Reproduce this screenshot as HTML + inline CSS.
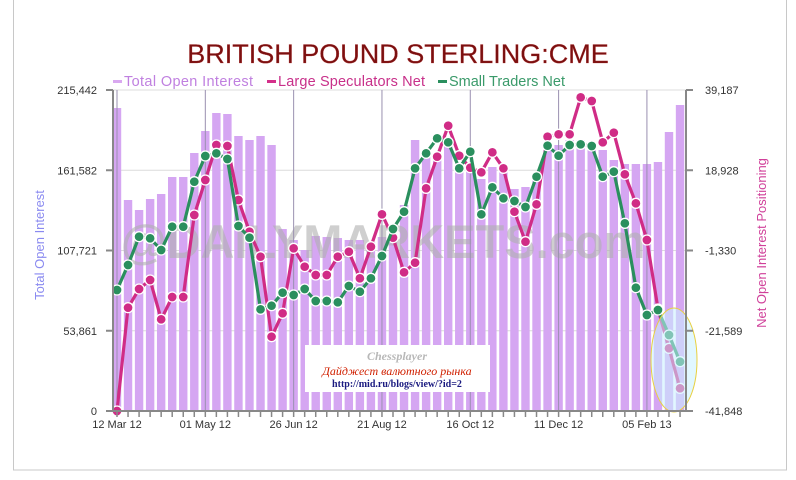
<!DOCTYPE html>
<html><head><meta charset="utf-8"><style>
html,body{margin:0;padding:0;background:#fff;width:796px;height:480px;overflow:hidden}
svg{display:block;font-family:"Liberation Sans","DejaVu Sans",sans-serif}
</style></head><body>
<svg id="c" width="796" height="480" xmlns="http://www.w3.org/2000/svg">
<rect x="13.5" y="-2" width="773" height="472" fill="#fff" stroke="#c8c8c8"/>
<text x="398" y="63" text-anchor="middle" font-size="27" fill="#7a1010" stroke="#b03030" stroke-width="0.3">BRITISH POUND STERLING:CME</text>
<g font-size="14.5">
<rect x="113" y="80" width="9" height="3" fill="#d9a8f0"/><text x="124" y="86" fill="#c080e0" textLength="129">Total Open Interest</text>
<rect x="267" y="80" width="9" height="3" fill="#d4308a"/><text x="278" y="86" fill="#c8308a" textLength="147">Large Speculators Net</text>
<rect x="438" y="80" width="9" height="3" fill="#2a8f5e"/><text x="449" y="86" fill="#3a9a6a" textLength="116">Small Traders Net</text>
</g>
<g id="grid"></g>
<g id="bars"></g>
<text x="383" y="258" text-anchor="middle" font-size="47" font-weight="bold" fill="#b0b0b0" opacity="0.6">@DAILYMARKETS.com</text>
<g id="vgrid"></g>
<rect x="305" y="345" width="185" height="47" fill="#fff"/>
<text x="397" y="360" text-anchor="middle" font-size="12" font-style="italic" font-weight="bold" fill="#b8b8b8" font-family="Liberation Serif,serif">Chessplayer</text>
<text x="397" y="375" text-anchor="middle" font-size="12" font-style="italic" fill="#d02000" font-family="Liberation Serif,serif">Дайджест валютного рынка</text>
<text x="397" y="387" text-anchor="middle" font-size="10" font-weight="bold" fill="#1a1a80" font-family="Liberation Serif,serif">http://mid.ru/blogs/view/?id=2</text>
<g id="lines"></g>
<ellipse cx="674" cy="360" rx="23" ry="52" fill="#c8f0ff" fill-opacity="0.55" stroke="#e8d040" stroke-width="1"/>
<g id="axes"></g>
<text transform="translate(44,245) rotate(-90)" text-anchor="middle" font-size="13" fill="#8a8af0">Total Open Interest</text>
<text transform="translate(766,243) rotate(-90)" text-anchor="middle" font-size="13" fill="#d0409a">Net Open Interest Positioning</text>
</svg>
<script>
var NS="http://www.w3.org/2000/svg";
function el(p,t,a,txt){var e=document.createElementNS(NS,t);for(var k in a)e.setAttribute(k,a[k]);if(txt!=null)e.textContent=txt;document.getElementById(p).appendChild(e);return e;}
var X0=117,DX=11.04,L=113,R=686,T=90,B=411;
function X(i){return X0+DX*i;}
var lv=["215,442","161,582","107,721","53,861","0"],rv=["39,187","18,928","-1,330","-21,589","-41,848"];
for(var k=0;k<5;k++){var y=T+k*80.25;
 if(k<4)el("grid","line",{x1:L,x2:R,y1:y,y2:y,stroke:"#dcdcdc"});
 el("axes","text",{x:97,y:y+4,"text-anchor":"end","font-size":"11",fill:"#333"},lv[k]);
 el("axes","text",{x:705,y:y+4,"font-size":"11",fill:"#333"},rv[k]);
 el("axes","line",{x1:L-7,x2:L,y1:y,y2:y,stroke:"#888","stroke-width":2});
 el("axes","line",{x1:R,x2:R+7,y1:y,y2:y,stroke:"#888","stroke-width":2});
}
var bars=[108,200,210,199,194,177,177,153,131,113,114,136,140,136,145,229,240,250,236,237,238,240,240,242,237,238,205,140,150,155,146,165,170,179,167,172,189,187,175,150,145,140,140,145,150,160,164,164,164,162,132,105];
for(var i=0;i<52;i++){el("bars","rect",{x:X(i)-4.2,y:bars[i],width:8.4,height:B-bars[i],fill:"#d5a6f2"});}
var labs=["12 Mar 12","01 May 12","26 Jun 12","21 Aug 12","16 Oct 12","11 Dec 12","05 Feb 13"];
for(var j=0;j<7;j++){var x=X(j*8);
 el("vgrid","line",{x1:x,x2:x,y1:T,y2:B,stroke:"#9a90b0","stroke-width":1});
 el("axes","text",{x:x,y:428,"text-anchor":"middle","font-size":"11",fill:"#333"},labs[j]);}
for(var i=0;i<52;i++)el("axes","line",{x1:X(i),x2:X(i),y1:B,y2:B+6,stroke:"#888","stroke-width":1.5});
el("axes","line",{x1:L,x2:L,y1:T,y2:B,stroke:"#888","stroke-width":2});
el("axes","line",{x1:R,x2:R,y1:T,y2:B,stroke:"#888","stroke-width":2});
el("axes","line",{x1:L-7,x2:R+7,y1:B,y2:B,stroke:"#888","stroke-width":2});
var pink=[978,668,612,585,703,636,636,390,285,180,183,345,440,515,755,685,490,545,570,570,515,500,580,485,388,458,562,533,310,215,122,212,248,262,202,250,380,470,358,155,148,148,37,48,172,143,268,355,465,672,790,910];
var green=[615,540,455,460,495,425,425,290,213,205,222,423,458,673,662,623,630,612,648,648,652,603,620,580,513,432,380,250,205,160,172,250,200,388,307,340,348,366,275,182,212,180,178,183,275,260,415,608,690,675,750,830];
function draw(d,c){var p="";for(var i=0;i<52;i++)p+=(i?"L":"M")+X(i).toFixed(1)+","+(85+d[i]/3).toFixed(1);
 el("lines","path",{d:p,fill:"none",stroke:c,"stroke-width":3.2,"stroke-linejoin":"round"});
 for(var i=0;i<52;i++)el("lines","circle",{cx:X(i),cy:85+d[i]/3,r:5,fill:c,stroke:"#fff","stroke-width":1.3});}
draw(pink,"#d02c86");draw(green,"#2a8f5e");
</script>
</body></html>
